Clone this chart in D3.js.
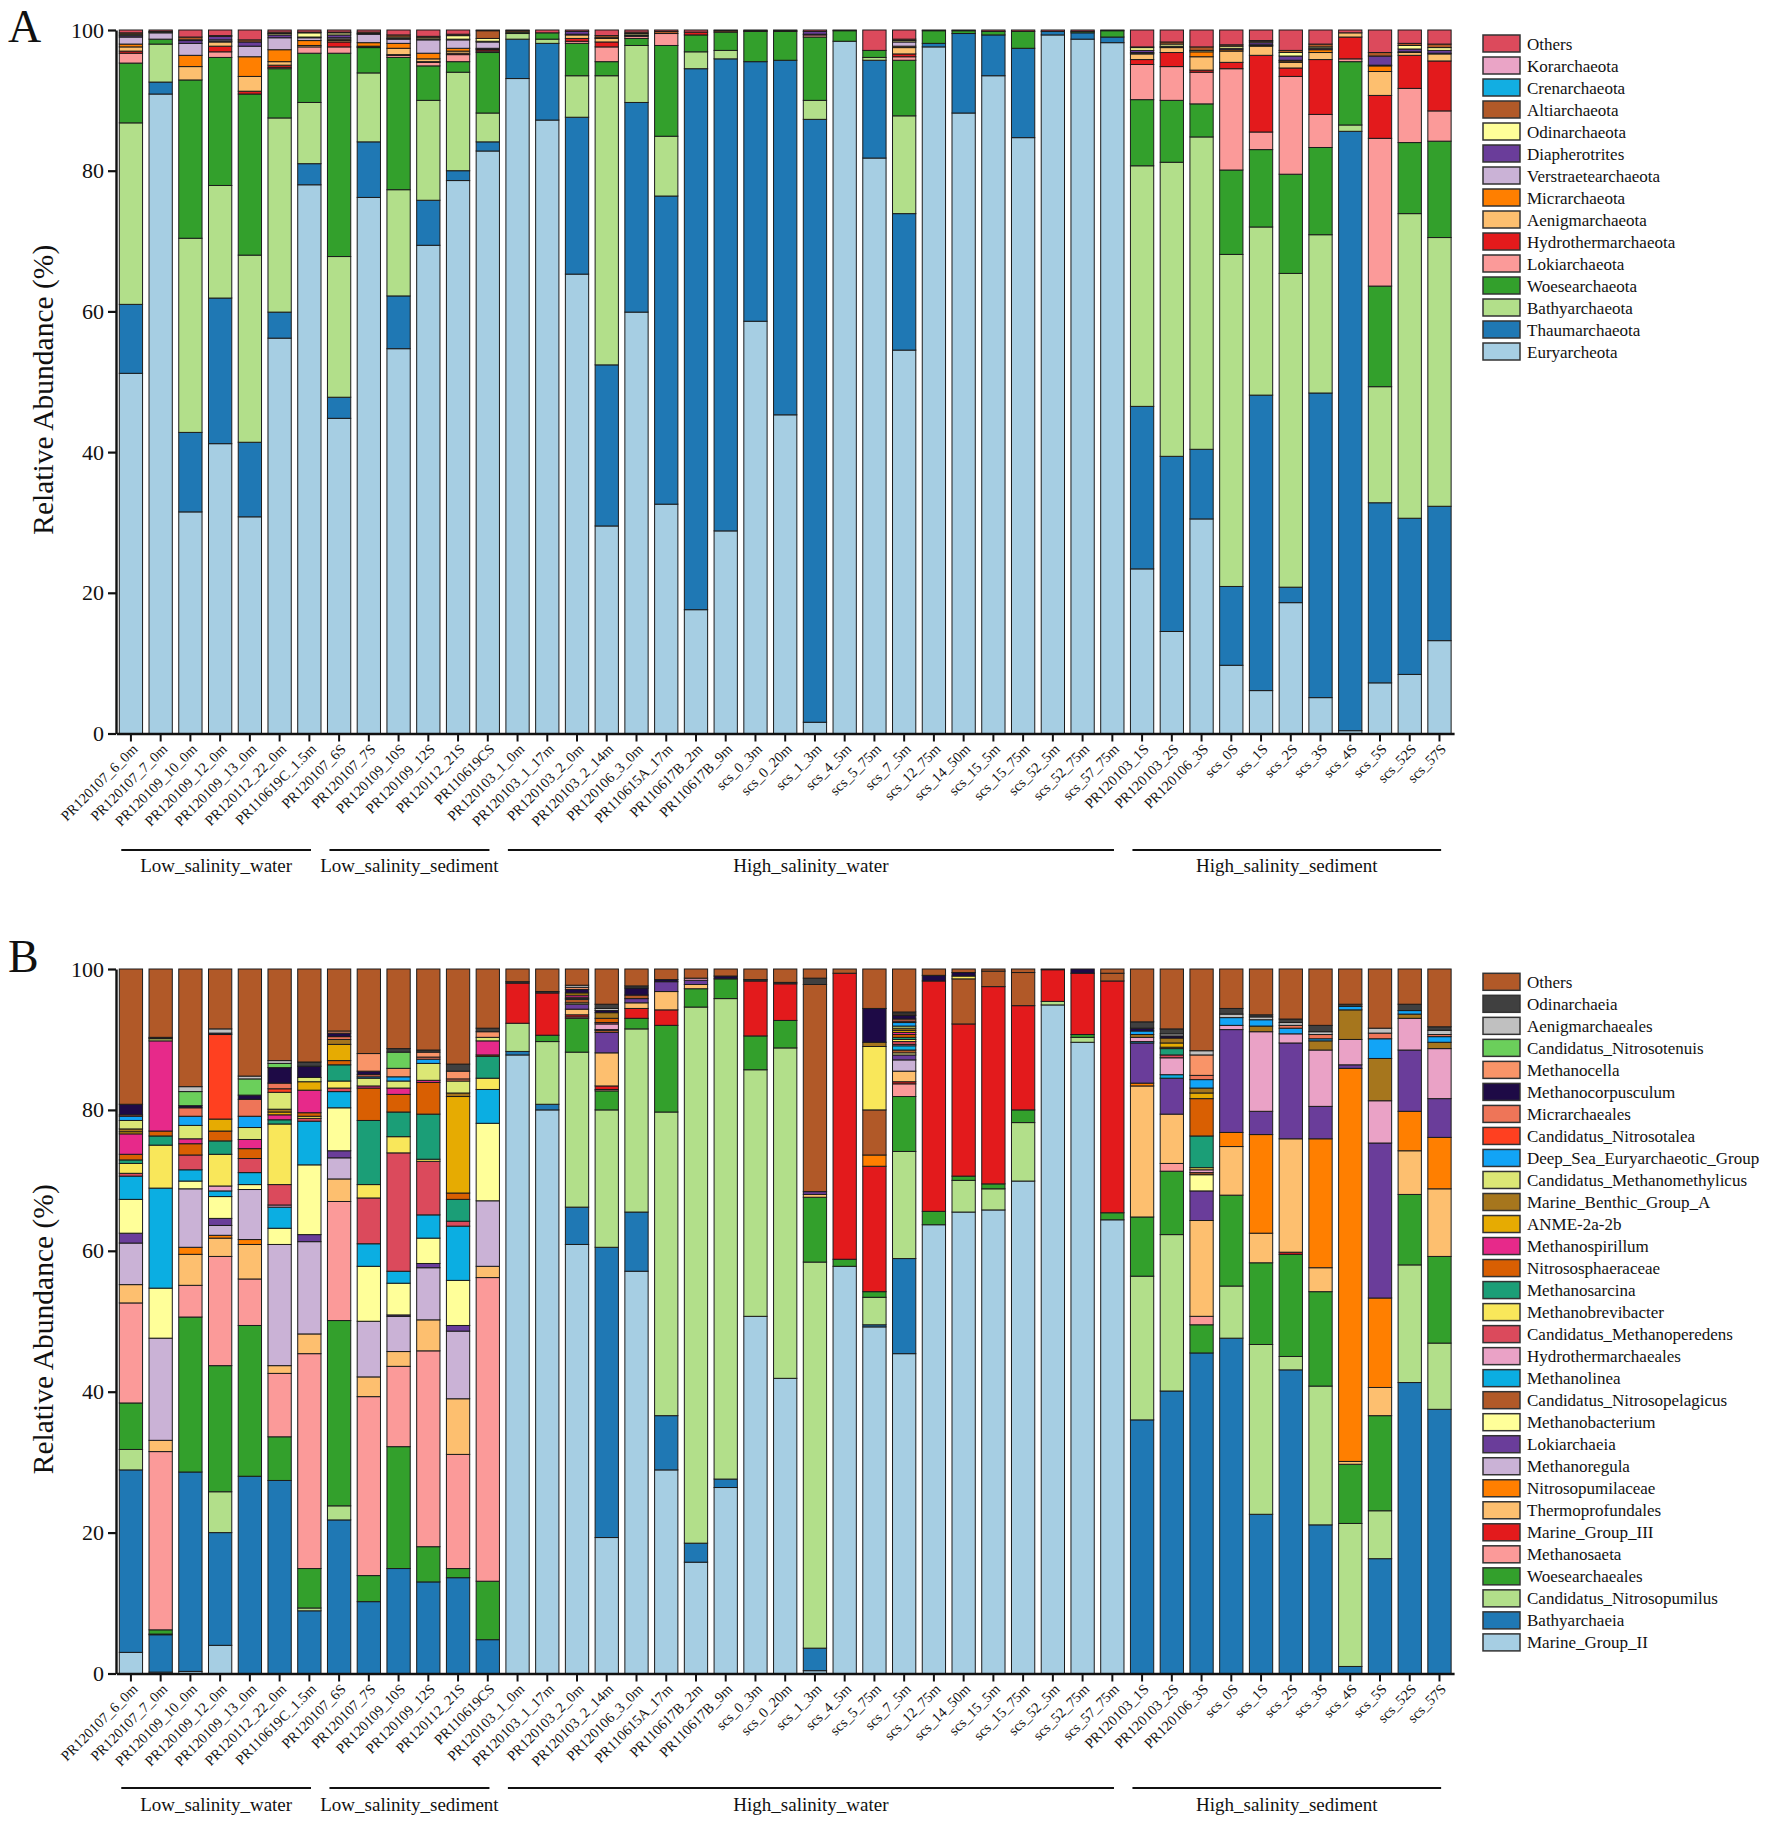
<!DOCTYPE html>
<html><head><meta charset="utf-8">
<script src="https://cdn.jsdelivr.net/npm/d3@7/dist/d3.min.js"></script>
<style>
body{margin:0;background:#fff}
svg{display:block;background:#fff}
text{font-family:"Times New Roman","Liberation Serif",serif;fill:#111}
</style>
</head><body>
<svg id="chart" width="1772" height="1822"></svg>
<script>
// ---------------- categories ----------------
const samples = ["PR120107_6_0m","PR120107_7_0m","PR120109_10_0m","PR120109_12_0m","PR120109_13_0m","PR120112_22_0m","PR110619C_1.5m",
 "PR120107_6S","PR120107_7S","PR120109_10S","PR120109_12S","PR120112_21S","PR110619CS",
 "PR120103_1_0m","PR120103_1_17m","PR120103_2_0m","PR120103_2_14m","PR120106_3_0m","PR110615A_17m","PR110617B_2m","PR110617B_9m",
 "scs_0_3m","scs_0_20m","scs_1_3m","scs_4_5m","scs_5_75m","scs_7_5m","scs_12_75m","scs_14_50m","scs_15_5m","scs_15_75m","scs_52_5m","scs_52_75m","scs_57_75m",
 "PR120103_1S","PR120103_2S","PR120106_3S","scs_0S","scs_1S","scs_2S","scs_3S","scs_4S","scs_5S","scs_52S","scs_57S"];
const groupNames = ["Low_salinity_water","Low_salinity_sediment","High_salinity_water","High_salinity_sediment"];
const groupFirst = [0, 7, 13, 34];
const groupLast  = [6, 12, 33, 44];
const yTicks = [0, 20, 40, 60, 80, 100];

// ---------------- panel A (phylum), stack order bottom -> top ----------------
const namesA = ["Euryarcheota","Thaumarchaeota","Bathyarchaeota","Woesearchaeota","Lokiarchaeota","Hydrothermarchaeota",
 "Aenigmarchaeota","Micrarchaeota","Verstraetearchaeota","Diapherotrites","Odinarchaeota","Altiarchaeota","Crenarchaeota","Korarchaeota","Others"];
const colorsA = ["#A6CEE3","#1F78B4","#B2DF8A","#33A02C","#FB9A99","#E31A1C","#FDBF6F","#FF7F00","#CAB2D6","#6A3D9A","#FFFF99","#B15928","#12AEE2","#EAA4C6","#DC4A5C"];

const A_Euryarcheota = [51.2,90.9,31.5,41.2,30.8,56.2,78.0,44.8,76.2,54.7,69.4,78.6,82.8,
 93.1,87.2,65.3,29.5,59.9,32.6,17.6,28.8,58.6,45.3,1.6,98.4,81.8,54.5,97.6,88.2,93.5,84.7,99.3,98.7,98.2,
 23.4,14.5,30.5,9.7,6.1,18.6,5.1,0.4,7.2,8.4,13.2];
const A_Thaumarchaeota = [9.8,1.7,11.3,20.7,10.6,3.7,3.0,3.0,7.9,7.5,6.4,1.4,1.3,
 5.6,10.9,22.3,22.9,29.8,43.8,76.9,67.1,36.9,50.4,85.7,0,13.9,19.4,0.5,11.3,5.8,12.7,0.5,0.9,0.8,
 23.1,24.9,9.9,11.2,42.0,2.2,43.3,85.2,25.6,22.2,19.1];
const A_Bathyarchaeota = [25.8,5.4,27.6,16.0,26.6,27.6,8.7,20.0,9.8,15.1,14.2,14.0,4.1,
 0.8,0.6,5.9,41.1,8.1,8.5,2.4,1.2,0,0,2.7,0,0.4,13.9,0,0,0,0,0,0,0,
 34.2,41.8,44.4,47.2,23.9,44.6,22.5,0.9,16.5,43.3,38.2];
const A_Woesearchaeota = [8.5,0.7,22.5,18.2,22.9,7.0,7.0,28.9,3.6,18.8,4.9,1.5,8.6,
 0.2,0.9,4.6,2.0,1.0,12.9,2.4,2.6,4.3,4.1,9.0,1.5,1.0,7.9,1.8,0.4,0.5,2.4,0,0.2,0.9,
 9.4,8.8,4.7,12.0,11.0,14.1,12.4,9.0,14.3,10.1,13.7];
const A_Lokiarchaeota = [1.4,0,0,0.8,0,0.2,0.9,0.9,0.1,0.3,0.5,1.0,0.2,
 0,0,0.3,2.1,0.3,1.7,0,0,0,0,0.3,0,0,0.5,0,0,0,0,0,0,0,
 5.0,4.8,4.5,14.4,2.5,13.9,4.7,0.4,21.0,7.7,4.3];
const A_Hydrothermarchaeota = [0.3,0,0,0.8,0.4,0.3,0,0.7,0,0.1,0.1,0.2,0.2,
 0,0,0.4,0.7,0,0,0.4,0,0,0,0,0,0,0.4,0,0,0,0,0,0,0,
 0.7,2.0,0.3,0.9,10.9,1.2,7.8,3.1,6.1,4.7,7.1];
const A_Aenigmarchaeota = [0.6,0,1.9,0.6,2.1,0.5,0.2,0.2,0.1,0.9,0.4,0.3,0.1,
 0,0,0.5,0.5,0,0,0,0,0,0,0,0,0,0.9,0,0,0,0,0,0,0,
 0.8,0.7,1.9,1.6,1.3,0.8,1.0,0.6,3.4,0.4,1.0];
const A_Micrarchaeota = [0.4,0,1.6,0.1,2.8,1.7,0.7,0.2,0.5,0.7,0.8,0.4,0.1,
 0,0,0,0.1,0,0,0,0,0,0,0,0,0,0.2,0,0,0,0,0,0,0,
 0.1,0.1,0.7,0.2,0.1,0.2,0.4,0,0.8,0.1,0.1];
const A_Verstraetearchaeota = [1.0,0.9,1.7,0.2,1.5,1.7,0.4,0.2,1.2,0.6,1.9,1.2,0.9,
 0,0,0.1,0,0.1,0,0,0,0,0,0.1,0,0,0.6,0,0,0,0,0,0,0,
 0.1,0,0,0,0.1,0.1,0,0,0.1,0,0];
const A_Diapherotrites = [0.2,0.1,0.4,0.5,0.6,0.4,0.1,0.4,0.1,0.1,0.1,0.1,0.1,
 0,0,0.4,0,0.1,0,0,0,0,0,0.4,0,0,0,0,0,0,0,0,0,0,
 0.3,0.1,0,0.2,0.3,0.6,0.2,0,1.3,0.4,0.4];
const A_Odinarchaeota = [0.2,0.1,0.1,0,0,0.2,0.6,0.3,0,0.2,0.2,0.5,0.4,
 0,0,0,0,0.2,0,0,0,0,0,0,0,0,0.2,0,0,0,0,0,0,0,
 0.4,0.3,0.2,0.3,0.2,0.5,0.2,0,0,0.5,0.4];
const A_Altiarchaeota = [0.2,0,0.4,0.1,0.3,0.2,0.1,0.1,0.2,0.3,0.2,0.2,1.1,
 0.2,0,0,0.3,0.2,0.3,0,0.2,0.1,0.1,0,0,0,0.2,0,0,0,0,0,0,0,
 0.1,0.3,0.5,0.2,0.1,0.3,0.4,0,0.5,0.3,0.5];
const A_Crenarchaeota = [0,0,0,0,0,0,0,0,0,0,0,0,0,
 0,0,0,0,0,0,0,0,0,0,0,0,0,0,0,0,0,0,0,0,0,
 0,0,0,0,0,0,0,0,0,0,0];
const A_Korarchaeota = [0,0,0,0,0,0,0,0,0,0,0,0,0,
 0,0,0,0,0,0,0,0,0,0,0,0,0,0,0,0,0,0,0,0,0,
 0,0,0,0,0,0,0,0,0,0,0];
const A_Others = [0.4,0.2,1.0,0.8,1.4,0.3,0.3,0.3,0.3,0.7,0.9,0.6,0.1,
 0.1,0.4,0.2,0.8,0.3,0.2,0.3,0.1,0.1,0.1,0.2,0.1,2.9,1.3,0.1,0.1,0.2,0.2,0.2,0.2,0.1,
 2.4,1.7,2.4,2.1,1.5,2.9,2.0,0.4,3.2,1.9,2.0];
const seriesA = [A_Euryarcheota,A_Thaumarchaeota,A_Bathyarchaeota,A_Woesearchaeota,A_Lokiarchaeota,A_Hydrothermarchaeota,
 A_Aenigmarchaeota,A_Micrarchaeota,A_Verstraetearchaeota,A_Diapherotrites,A_Odinarchaeota,A_Altiarchaeota,A_Crenarchaeota,A_Korarchaeota,A_Others];

// ---------------- panel B (genus), stack order bottom -> top ----------------
const namesB = ["Marine_Group_II","Bathyarchaeia","Candidatus_Nitrosopumilus","Woesearchaeales","Methanosaeta","Marine_Group_III",
 "Thermoprofundales","Nitrosopumilaceae","Methanoregula","Lokiarchaeia","Methanobacterium","Candidatus_Nitrosopelagicus","Methanolinea",
 "Hydrothermarchaeales","Candidatus_Methanoperedens","Methanobrevibacter","Methanosarcina","Nitrososphaeraceae","Methanospirillum",
 "ANME-2a-2b","Marine_Benthic_Group_A","Candidatus_Methanomethylicus","Deep_Sea_Euryarchaeotic_Group","Candidatus_Nitrosotalea",
 "Micrarchaeales","Methanocorpusculum","Methanocella","Candidatus_Nitrosotenuis","Aenigmarchaeales","Odinarchaeia","Others"];
const colorsB = ["#A6CEE3","#1F78B4","#B2DF8A","#33A02C","#FB9A99","#E31A1C","#FDBF6F","#FF7F00","#CAB2D6","#6A3D9A","#FFFF99","#B15928","#0BAEE2",
 "#EAA2C6","#DB4A5C","#F9E75A","#1B9E77","#D95F02","#E7298A","#E6AB02","#A6761D","#DCE775","#12A4F6","#FF4020",
 "#EE7558","#1E0A46","#F99468","#6BCF5B","#C0C0C0","#404040","#B15928"];

const B_Marine_Group_II = [3.0,0.2,0.3,4.0,0,0,0,0,0,0,0,0,0,
 87.8,80.0,60.9,19.3,57.1,28.9,15.8,26.4,50.7,41.9,0.4,57.8,49.2,45.4,63.7,65.5,65.8,69.9,94.9,89.6,64.4,
 0,0,0,0,0,0,0,0,0,0,0];
const B_Bathyarchaeia = [25.9,5.3,28.3,16.0,28.0,27.4,8.9,21.8,10.2,14.9,13.0,13.6,4.8,
 0.5,0.8,5.3,41.2,8.4,7.7,2.7,1.2,0,0,3.2,0,0.3,13.5,0,0,0,0,0,0,0,
 36.0,40.1,45.5,47.6,22.6,43.1,21.1,1.0,16.3,41.3,37.5];
const B_Candidatus_Nitrosopumilus = [2.9,0.1,0,5.8,0,0,0.4,2.0,0,0,0,0,0,
 4.0,8.9,22.0,19.5,26.0,43.1,76.1,68.2,35.0,46.9,54.8,0,3.9,15.2,0,4.5,3.0,8.3,0.5,0.7,0,
 20.4,22.2,0,7.4,24.1,1.9,19.7,20.3,6.8,16.7,9.4];
const B_Woesearchaeales = [6.6,0.6,22.0,17.9,21.4,6.2,5.6,26.3,3.7,17.3,5.0,1.3,8.3,
 0,0.9,4.8,2.7,1.5,12.3,2.6,2.8,4.8,3.9,9.2,1.0,0.8,7.8,1.9,0.6,0.7,1.8,0,0.4,1.0,
 8.4,9.0,4.0,12.9,11.6,14.5,13.4,8.4,13.5,10.0,12.3];
const B_Methanosaeta = [14.2,25.3,4.5,15.5,6.6,9.0,30.5,16.9,25.4,11.4,27.8,16.2,43.1,
 0,0,0.2,0.2,0,0,0,0,0,0,0,0,0,1.8,0,0,0,0,0,0,0,
 0,1.1,1.2,0,0,0,0,0,0,0,0];
const B_Marine_Group_III = [0,0,0,0,0,0,0,0,0,0,0,0,0,
 5.7,6.0,0.3,0.5,1.4,2.2,0,0,7.8,5.2,0,40.6,17.8,0.3,32.7,21.6,28.0,14.8,4.5,8.7,32.9,
 0,0,0,0,0,0.3,0,0,0,0,0];
const B_Thermoprofundales = [2.6,1.6,4.4,2.6,4.9,1.1,2.8,3.2,2.8,2.1,4.4,7.9,1.6,
 0,0,0.8,4.7,0.8,2.6,0.6,0,0,0,0.4,0,0,1.5,0,0,0,0,0,0,0,
 18.6,7.0,13.6,6.9,4.2,16.1,3.4,0.4,4.0,6.2,9.6];
const B_Nitrosopumilaceae = [0,0,1.0,0.4,0.7,0,0,0,0,0,0,0,0,
 0,0,0,0,0,0,0,0,0,0,0,0,1.6,0,0,0,0,0,0,0,0,
 0.4,0,0,2.0,14.0,0,18.3,55.8,12.7,5.6,7.3];
const B_Methanoregula = [5.9,14.5,8.3,1.4,7.1,17.2,13.1,3.0,7.9,5.0,7.4,9.6,9.3,
 0,0,0,0,0,0,0,0,0,0,0,0,0,1.6,0,0,0,0,0,0,0,
 0,0,0,0,0,0,0,0,0,0,0];
const B_Lokiarchaeia = [1.4,0,0,1.0,0,0,1.0,1.0,0,0.2,0.6,0.8,0,
 0,0,0.7,2.9,0.6,1.4,0.6,0,0,0,0.4,0,0,0.7,0,0,0,0,0,0,0,
 5.7,5.1,4.2,14.6,3.3,13.6,4.6,0.5,22.0,8.7,5.5];
const B_Methanobacterium = [4.8,7.1,1.1,3.1,0.7,2.3,9.9,6.1,7.8,4.5,3.6,6.4,11.0,
 0,0,0.2,0,0,0,0,0,0,0,0,0,0,0.3,0,0,0,0,0,0,0,
 0,0,2.3,0,0,0,0,0,0,0,0];
const B_Candidatus_Nitrosopelagicus = [0,0,0,0,0,0,0,0,0,0,0,0,0,
 0,0,0.5,0.3,0.5,0,0,0,0,0,29.4,0,6.4,0.4,0,6.4,2.2,4.7,0,0,1.1,
 0,0,0.3,0,0,0,0,0,0,0,0];
const B_Methanolinea = [3.3,14.2,1.6,0.8,1.7,3.0,6.2,2.3,3.2,1.7,3.3,7.7,4.8,
 0,0,0.1,0.1,0,0,0,0,0,0,0,0,0,0.6,0,0,0,0,0,0,0,
 0.2,0.5,0,0,0,0,0,0,0,0,0];
const B_Hydrothermarchaeales = [0,0,0,0.7,0,0.3,0,0,0,0,0,0,0,
 0,0,0.2,0.8,0,0,0.3,0,0,0,0,0,0,0.2,0,0,0,0,0,0,0,
 0.6,2.4,0.4,0.6,11.3,1.3,8.0,3.6,6.0,4.5,7.1];
const B_Candidatus_Methanoperedens = [0.4,0,2.1,0,2.0,2.9,0.4,0.5,6.5,16.8,7.6,0.7,0,
 0,0,0,0.2,0,0,0,0,0,0,0,0,0,0.4,0,0,0,0,0,0,0,
 0,0.4,0,0,0,0,0,0,0,0,0];
const B_Methanobrevibacter = [1.4,6.1,0,4.5,0,8.6,0.3,1.0,1.9,2.3,0.3,0,1.6,
 0,0,0,0,0,0,0,0,0,0,0,0,9.0,0.3,0,0.4,0,0,0,0,0,
 0,0,0.3,0,0,0,0,0,0,0,0];
const B_Methanosarcina = [0.5,1.3,0,1.9,0,0.6,0,2.3,9.1,3.5,6.4,3.1,3.1,
 0,0,0,0,0,0,0,0,0,0,0,0,0,0.3,0,0,0,0,0,0,0,
 0,0.9,4.5,0,0,0,0,0,0,0,0];
const B_Nitrososphaeraceae = [0.8,0.7,1.6,1.4,1.4,0,0.5,0.6,4.6,2.5,4.5,0.9,0.2,
 0,0,0,0.6,0,0,0,0,0,0,0,0,0,0.4,0,0,0,0,0,0,0,
 0,0.2,5.3,0,0,0,0,0,0,0,0];
const B_Methanospirillum = [2.9,12.8,0.7,0,1.3,0.7,3.2,0,0.3,0.9,0.3,0,2.0,
 0,0,0.3,0,0,0,0,0,0,0,0,0,0,0.3,0,0,0,0,0,0,0,
 0,0,0,0,0,0,0,0,0,0,0];
const B_ANME_2a_2b = [0.3,0,0,1.7,0,0.4,1.2,2.3,0,0,0,13.7,0,
 0,0,0.3,0,0,0,0,0,0,0,0,0,0,0.3,0,0,0,0,0,0,0,
 0,0.6,0.8,0,0,0,0,0,0,0,0];
const B_Marine_Benthic_Group_A = [0.4,0,0,0,0,0.4,0,0.7,0,0,0,0.5,0,
 0,0,0,0.8,0,0,0,0,0,0,0,0,0.6,0.3,0,0,0,0,0,0,0,
 0.4,0.7,0.7,0,0.8,0,1.3,4.2,6.0,0.6,0.9];
const B_Candidatus_Methanomethylicus = [1.2,0.3,1.9,0,1.7,2.4,0.6,0,1.1,1.0,2.4,1.7,0.5,
 0,0,0,0,0,0,0,0,0,0,0,0,0,0.3,0,0,0,0,0,0,0,
 0,0,0,0,0,0,0,0,0,0,0];
const B_Deep_Sea_Euryarchaeotic_Group = [0.6,0,1.3,0,1.6,0,0,0,0.2,0.6,0.6,0,0,
 0,0,0,0,0,0,0,0,0,0,0,0,0,0.5,0,0,0,0,0,0,0,
 0.5,0,1.2,1.1,0.9,0.8,0.3,0.5,2.8,0.5,0.8];
const B_Candidatus_Nitrosotalea = [0,0,0,12.0,0,0.5,0,0,0,0,0,0,0,
 0,0,0,0,0,0,0,0,0,0,0,0,0,0.2,0,0,0,0,0,0,0,
 0,0,0,0,0,0,0,0,0,0,0];
const B_Micrarchaeales = [0.2,0,1.2,0,2.4,0.8,0,0.4,0.3,0,0.3,0.3,0,
 0,0,0,0,0,0,0,0,0,0,0,0,0,0.3,0,0,0,0,0,0,0,
 0,0,0.6,0,0,0.4,0.6,0,0.8,0,0.3];
const B_Methanocorpusculum = [1.5,0,0.3,0.2,0.6,2.2,1.6,0.5,0.5,0,0,0,0,
 0,0,0.5,0.3,1.0,0.3,0,0.4,0,0,0,0,4.8,0.5,0.8,0.5,0,0,0,0.6,0,
 0.4,0.3,0,0,0,0,0,0,0,0,0];
const B_Methanocella = [0,0,0,0,0,0,0,0.3,2.5,1.2,0.7,1.1,0.8,
 0,0,0.3,0,0,0,0,0,0,0,0,0,0,0.2,0,0,0,0,0,0,0,
 0,0,2.9,0,0,0,0,0,0,0,0];
const B_Candidatus_Nitrosotenuis = [0,0,2.0,0,2.3,0.6,0,0,0,2.3,0,0,0,
 0,0,0,0,0,0,0,0,0,0,0,0,0,0,0,0,0,0,0,0,0,
 0,0,0,0,0,0,0,0,0,0,0];
const B_Aenigmarchaeales = [0,0.1,0.7,0.6,0.4,0.4,0,0,0,0,0,0,0,
 0,0,0.3,0.3,0,0,0,0,0,0,0,0,0,0,0,0,0,0,0,0,0,
 0,0.3,0.6,0.5,0.4,0.4,0.4,0,0.7,0,0.6];
const B_Odinarchaeia = [0,0.1,0,0,0,0,0.6,0,0,0.5,0.3,1.0,0.5,
 0.2,0.2,0,0.6,0.3,0,0,0,0.2,0.2,0.9,0,0,0.3,0,0,0,0,0,0,0,
 0.9,0.7,0,0.8,0.3,0.5,0.9,0.3,0,0.9,0.5];
const B_Others = [19.2,9.7,16.7,8.5,15.2,13.0,13.2,8.8,12.0,11.3,11.5,13.5,8.4,
 1.8,3.2,2.3,5.0,2.4,1.5,1.3,1.0,1.5,1.9,1.3,0.6,5.6,6.1,0.9,0.5,0.3,0.5,0.1,0,0.6,
 7.5,8.5,11.6,5.6,6.5,7.1,8.0,5.0,8.4,5.0,8.2];
const seriesB = [B_Marine_Group_II,B_Bathyarchaeia,B_Candidatus_Nitrosopumilus,B_Woesearchaeales,B_Methanosaeta,B_Marine_Group_III,
 B_Thermoprofundales,B_Nitrosopumilaceae,B_Methanoregula,B_Lokiarchaeia,B_Methanobacterium,B_Candidatus_Nitrosopelagicus,B_Methanolinea,
 B_Hydrothermarchaeales,B_Candidatus_Methanoperedens,B_Methanobrevibacter,B_Methanosarcina,B_Nitrososphaeraceae,B_Methanospirillum,
 B_ANME_2a_2b,B_Marine_Benthic_Group_A,B_Candidatus_Methanomethylicus,B_Deep_Sea_Euryarchaeotic_Group,B_Candidatus_Nitrosotalea,
 B_Micrarchaeales,B_Methanocorpusculum,B_Methanocella,B_Candidatus_Nitrosotenuis,B_Aenigmarchaeales,B_Odinarchaeia,B_Others];

// ---------------- drawing ----------------
const FONT = '"Times New Roman","Liberation Serif",serif';
const svg = d3.select("#chart");
svg.append("rect").attr("width",1772).attr("height",1822).attr("fill","#fff");

const AXIS_X = 116;
const x = d3.scaleBand().domain(samples).range([116.3, 1454.1]).paddingInner(0.217).paddingOuter(0.1);

function panel(p) {
  const y = d3.scaleLinear().domain([0, 100]).range([p.y0, p.y1]);
  const rows = samples.map((s, i) => {
    const r = { sample: s };
    p.names.forEach((n, k) => { r[n] = p.series[k][i]; });
    return r;
  });
  const stacked = d3.stack().keys(p.names)(rows);
  const color = d3.scaleOrdinal().domain(p.names).range(p.colors);
  const g = svg.append("g");

  g.selectAll("g.layer").data(stacked).join("g").attr("class","layer")
    .attr("fill", d => color(d.key))
    .selectAll("rect").data(d => d.filter(e => e[1] - e[0] > 0)).join("rect")
    .attr("x", d => x(d.data.sample))
    .attr("width", x.bandwidth())
    .attr("y", d => y(d[1]))
    .attr("height", d => y(d[0]) - y(d[1]))
    .attr("stroke", "#1c1c1c").attr("stroke-width", 1);

  // y axis
  const ya = g.append("g").attr("transform", `translate(${AXIS_X},0)`)
    .call(d3.axisLeft(y).tickValues(yTicks).tickSize(8).tickSizeOuter(0).tickPadding(4));
  ya.attr("font-family", FONT).attr("font-size", 22);
  ya.select(".domain").attr("stroke", "#111").attr("stroke-width", 2.4);
  ya.selectAll(".tick line").attr("stroke", "#111").attr("stroke-width", 2.2);
  ya.selectAll(".tick text").attr("fill", "#111");

  // x axis
  const xa = g.append("g").attr("transform", `translate(0,${p.y0})`)
    .call(d3.axisBottom(x).tickSize(8).tickSizeOuter(0).tickFormat(""));
  xa.select(".domain").attr("stroke", "#111").attr("stroke-width", 2.4);
  xa.selectAll(".tick line").attr("stroke", "#111").attr("stroke-width", 2);

  g.selectAll("text.xl").data(samples).join("text").attr("class","xl")
    .attr("transform", s => `translate(${x(s) + x.bandwidth() / 2 + 4},${p.y0 + 13}) rotate(-45)`)
    .attr("text-anchor", "end").attr("dy", "0.35em")
    .attr("font-family", FONT).attr("font-size", 14.5)
    .text(s => s);

  // group lines + labels
  groupNames.forEach((gn, k) => {
    const xs = x(samples[groupFirst[k]]) + 2;
    const xe = x(samples[groupLast[k]]) + x.bandwidth() - 10;
    g.append("line").attr("x1", xs).attr("x2", xe).attr("y1", p.lineY).attr("y2", p.lineY)
      .attr("stroke", "#111").attr("stroke-width", 2);
    g.append("text").attr("x", (xs + xe) / 2).attr("y", p.labelY)
      .attr("text-anchor", "middle").attr("font-family", FONT).attr("font-size", 19).text(gn);
  });

  // y title
  g.append("text").attr("transform", `translate(43,${(p.y0 + p.y1) / 2 + 8}) rotate(-90)`)
    .attr("text-anchor", "middle").attr("dominant-baseline", "central")
    .attr("font-family", FONT).attr("font-size", 29.5).text("Relative Abundance (%)");

  // panel letter
  g.append("text").attr("x", 8).attr("y", p.letterY)
    .attr("font-family", FONT).attr("font-size", 46).text(p.letter);

  // legend (top entry = last stacked)
  const legendNames = p.names.slice().reverse();
  const lg = g.append("g");
  legendNames.forEach((n, i) => {
    const yy = p.legendTop + i * p.legendStep;
    lg.append("rect").attr("x", 1483).attr("y", yy).attr("width", 37).attr("height", 17)
      .attr("fill", color(n)).attr("stroke", "#333").attr("stroke-width", 1.5);
    lg.append("text").attr("x", 1527).attr("y", yy + 14.5)
      .attr("font-family", FONT).attr("font-size", 17).text(n);
  });
}

panel({ names: namesA, colors: colorsA, series: seriesA, y0: 733.5, y1: 30,
        lineY: 850, labelY: 872, letter: "A", letterY: 42, legendTop: 35, legendStep: 22 });
panel({ names: namesB, colors: colorsB, series: seriesB, y0: 1673.5, y1: 969,
        lineY: 1788, labelY: 1811, letter: "B", letterY: 972, legendTop: 973.3, legendStep: 22.02 });
</script>
</body></html>
